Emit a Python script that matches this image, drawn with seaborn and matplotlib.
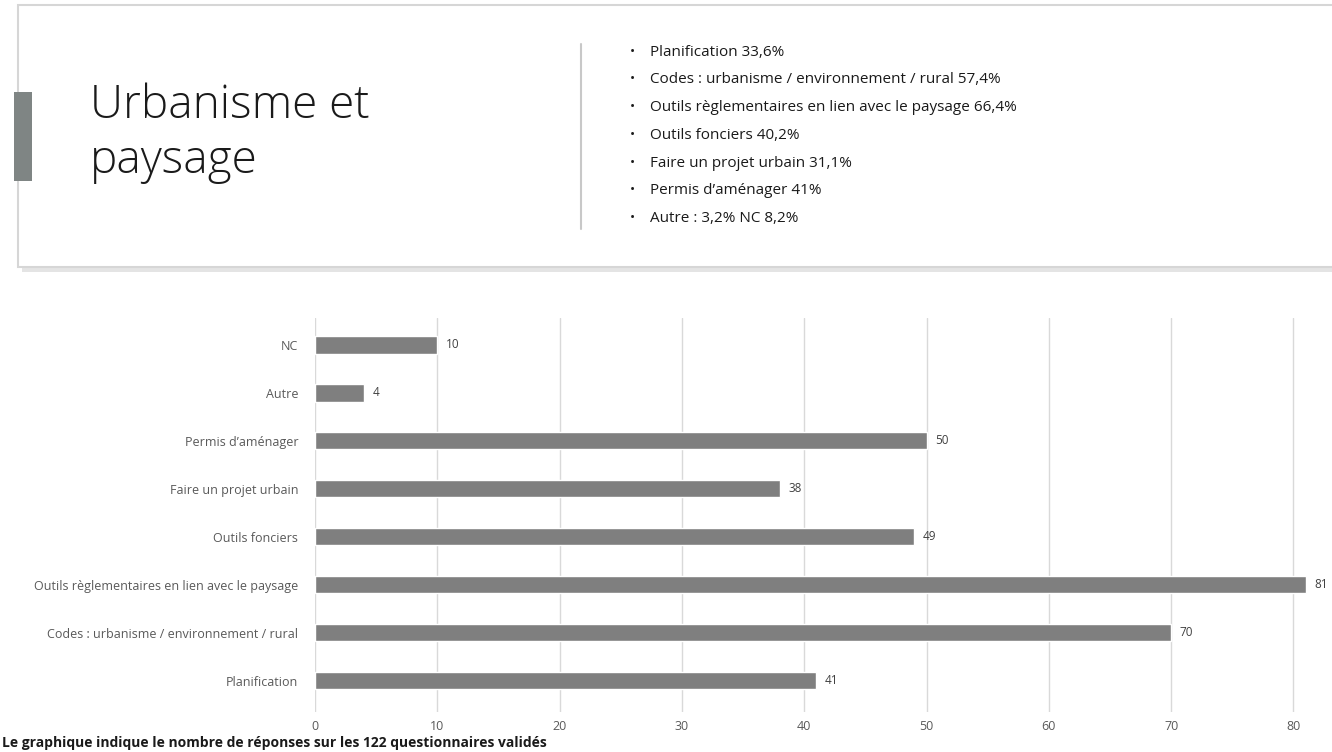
import matplotlib
matplotlib.use("Agg")
import matplotlib.pyplot as plt
import seaborn as sns
import pandas as pd
from matplotlib.patches import Rectangle

categories = ["NC", "Autre", "Permis d’aménager", "Faire un projet urbain", "Outils fonciers",
              "Outils règlementaires en lien avec le paysage",
              "Codes : urbanisme / environnement / rural", "Planification"]
values = [10, 4, 50, 38, 49, 81, 70, 41]
xticks = [0, 10, 20, 30, 40, 50, 60, 70, 80]
title_lines = ["Urbanisme et", "paysage"]
bullets = ["Planification 33,6%",
           "Codes : urbanisme / environnement / rural 57,4%",
           "Outils règlementaires en lien avec le paysage 66,4%",
           "Outils fonciers 40,2%",
           "Faire un projet urbain 31,1%",
           "Permis d’aménager 41%",
           "Autre : 3,2% NC 8,2%"]
footnote = "Le graphique indique le nombre de réponses sur les 122 questionnaires validés"

sns.set_theme(style="white")
plt.rcParams['font.family'] = ['Open Sans', 'DejaVu Sans']

W, H = 1332, 752
fig = plt.figure(figsize=(W / 100, H / 100), dpi=100)
fig.patch.set_facecolor("white")

def fx(x):
    return x / W

def fy(y):
    return 1 - y / H

# header box with shadow
fig.patches.append(Rectangle((fx(22), fy(272)), fx(1400), fy(9) - fy(272), transform=fig.transFigure,
                             facecolor="#e4e4e4", edgecolor="none", zorder=0))
fig.patches.append(Rectangle((fx(18), fy(267)), fx(1400), fy(5) - fy(267), transform=fig.transFigure,
                             facecolor="white", edgecolor="#d6d6d6", linewidth=1.5, zorder=1))
# accent bar
fig.patches.append(Rectangle((fx(14), fy(181)), fx(18), fy(92) - fy(181), transform=fig.transFigure,
                             facecolor="#7f8584", edgecolor="none", zorder=2))
# separator
fig.add_artist(plt.Line2D([fx(581), fx(581)], [fy(44), fy(229)], transform=fig.transFigure,
                          color="#c8c8c8", linewidth=1.5, zorder=2))

for i, line in enumerate(title_lines):
    fig.text(fx(90), fy(118 + i * 55), line, fontsize=33, color="#1a1a1a",
             fontweight="light", va="baseline", ha="left", zorder=3)

for i, b in enumerate(bullets):
    y = 52 + i * 27.8
    fig.text(fx(630), fy(y), "•", fontsize=10, color="#1a1a1a", va="center", ha="left", zorder=3)
    fig.text(fx(650), fy(y), b, fontsize=11, color="#1a1a1a", va="center", ha="left", zorder=3)

# chart
df = pd.DataFrame({"cat": categories, "val": values})
ax = fig.add_axes([fx(315), fy(712), fx(W - 315), fy(318) - fy(712)])
sns.barplot(data=df, x="val", y="cat", orient="h", color="#7f7f7f", saturation=1,
            width=0.36, ax=ax, zorder=3)
ax.set_xlim(0, (W - 315) / 12.23)
ax.set_ylim(7.65, -0.56)
ax.set_xticks(xticks)
ax.grid(axis="x", color="#d9d9d9", linewidth=1, zorder=0)
ax.grid(axis="y", visible=False)
for s in ax.spines.values():
    s.set_visible(False)
ax.set_xlabel("")
ax.set_ylabel("")
ax.tick_params(axis="x", length=0, pad=6, labelsize=9, labelcolor="#595959")
ax.tick_params(axis="y", length=0, pad=12, labelsize=9, labelcolor="#595959")
for c in ax.containers:
    ax.bar_label(c, padding=6, fontsize=8.5, color="#404040")

fig.text(fx(2), fy(750), footnote, fontsize=10, fontweight="bold", color="#1a1a1a",
         va="bottom", ha="left")

fig.savefig("out.png", dpi=100, facecolor="white")
